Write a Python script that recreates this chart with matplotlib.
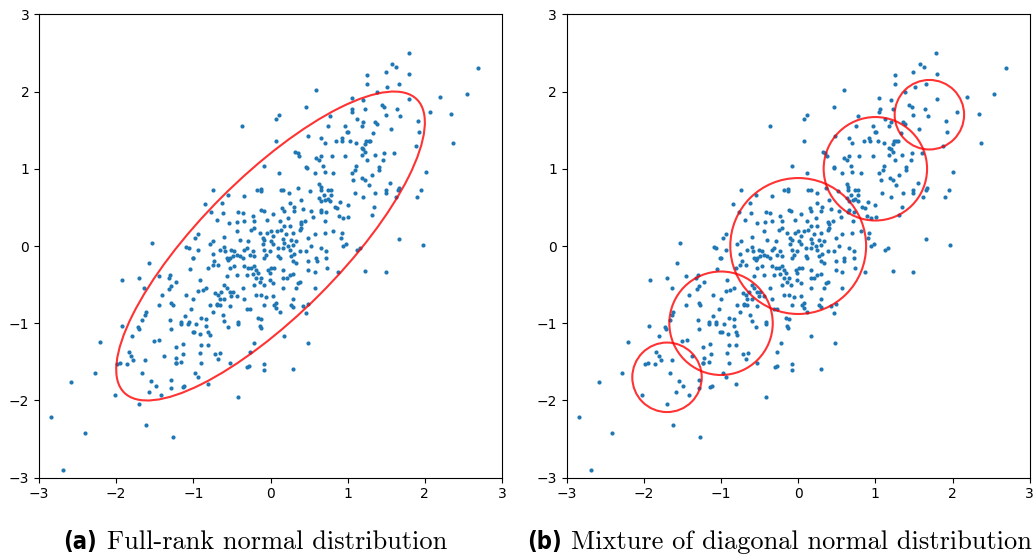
import numpy as np
import matplotlib.pyplot as plt
from matplotlib.patches import Ellipse

# sample drawn from a correlated 2d gaussian (rho = 0.8)
xs = [0.59, 0.46, 0.11, 0.07, -0.37, 0.07, 0.48, 0.77, 0.75, 0.97, 0.99, 0.66, 0.70, 0.85, 0.92, 0.93,
      0.32, 0.35, 0.37, 0.59, 0.63, 0.66, 0.79, 0.97, -0.08, 0.46, 0.68,
      1.79, 1.58, 1.63, 2.69, 1.25, 1.49, 1.80, 1.25, 1.51, 1.66, 1.38, 2.19, 2.54, 1.05, 1.20, 1.80,
      1.44, 1.47, 1.23, 1.06, 1.05, 1.64, 2.06, 2.34, 1.49, 1.68, 1.12, 1.20, 1.36, 1.38, 1.91, 1.18,
      1.56, 1.01, 1.33, 1.93, 1.03, 1.11, 1.24, 1.27, 1.29, 1.23, 2.37, 1.88, 1.18, 1.20, 1.23, 1.35,
      1.47, 1.60, 1.18, 1.25, 1.46, 1.11, 1.40,
      -1.53, -1.09, -1.06, -1.57, -1.01, -1.92, -1.70, -1.45, -1.30, -1.32, -1.22, -1.05, -1.64, -1.29,
      -1.31, -1.41, -1.10, -1.29, -1.27, -1.45, -1.62, -1.63, -1.66, -1.30, -1.11, -1.03, -1.16, -1.06,
      1.10, 1.05, 1.40, 1.07, 1.31, 1.19, 1.23, 1.27, 1.55, 2.01, 1.09, 1.20, 1.36, 1.49, 1.49, 1.65,
      1.67, 1.62, 1.95, 1.90, 1.00, 1.34, 1.01, 1.31, 1.66, 1.97, 1.12, 1.16, 1.23, 1.49,
      -1.93, -1.72, -1.71, -1.29, -1.16, -1.07, -2.21, -1.80, -1.51, -1.44, -1.01, -1.23, -1.14, -1.84,
      -1.81, -1.78, -1.63, -1.38, -1.13, -1.22, -1.23, -1.16, -1.23, -1.99, -1.95, -1.86, -2.28, -1.66,
      -2.58, -1.55, -1.49, -1.29, -1.29, -1.14, -1.12, -1.58, -2.02, -1.42, -1.70, -2.84, -2.41, -1.62,
      -1.27, -2.69,
      -0.96, -0.83, -0.55, -0.42, -0.14, -0.13, -0.99, -0.91, -0.81, -0.79, -0.90, -0.81, -0.92, -0.72,
      -0.65, -0.68, -0.90, -0.53, -0.22, -0.27, 0.17, 0.48, -0.30, -0.28, -0.08, -0.08, 0.29, -0.98,
      -0.94, -0.81, -0.42,
      0.11, 0.57, 0.70, 0.81, 0.47,
      -0.74, -0.55, -0.34, -0.18, -0.13, -0.13, 0.13, 0.16, 0.24, 0.36, 0.51, 0.63, 0.65, 0.65, 0.69,
      0.74, 0.78, 0.78, 0.74, 0.77, 0.71, 0.66, 0.63, 0.40, 0.25, 0.83, 0.86, 0.90, -0.85, -0.63,
      -0.77, -0.61, -0.42, -0.36, -0.23, -0.12, -0.09, 0.03, 0.15, 0.17, 0.30, 0.42, 0.31, 0.53, 0.66,
      0.65, 0.72, 0.89, 0.94, -0.69, -0.54, -0.43, -0.34, -0.21, -0.04, 0.12, 0.23, 0.25, 0.39, 0.40,
      0.45, 0.55, 0.71,
      -0.94, -0.98, -0.74, -0.60, -0.44, -0.25, -0.21, -0.14, -0.10, -0.08, -0.04, 0.00, 0.03, 0.08,
      0.13, 0.17, 0.20, 0.29, 0.38, 0.40, 0.49, 0.57, 0.70, 0.92, 0.91, -0.40, -0.29, 0.01, 0.03, 0.16,
      0.18, 0.27, 0.33, 0.81,
      -0.94, -0.79, -0.66, -0.60, -0.59, -0.51, -0.47, -0.34, -0.31, -0.23, -0.10, -0.08, -0.06, -0.01,
      0.10, 0.12, 0.16, 0.23, 0.25, 0.29, 0.31, 0.38, 0.46, 0.53, 0.66, 0.72, 0.94, 0.98, -1.00, -0.75,
      -0.73, -0.57, -0.55, -0.53, -0.49, -0.44, -0.40, -0.36, -0.27, -0.21, -0.08, 0.10, 0.27, 0.29,
      0.33, 0.49, 0.59, 0.60, 0.72,
      -0.81, -0.75, -0.68, -0.53, -0.47, -0.34, -0.29, -0.25, -0.21, -0.19, -0.16, -0.03, 0.01, 0.05,
      -0.01, 0.16, 0.25, 0.29, 0.49, 0.57, 0.73, 0.87, -0.92, -0.57, -0.44, -0.31, -0.23, -0.19, -0.14,
      -0.12, -0.01, 0.03, 0.16, 0.21, 0.36, 0.38,
      -0.94, -0.88, -0.83, -0.60, -0.57, -0.68, -0.64, -0.53, -0.49, -0.36, -0.21, -0.09, 0.16, 0.33,
      0.57, -0.72, -0.66, -0.70, -0.60, -0.51, -0.44, -0.34, -0.19, -0.12, -0.06, 0.03, 0.07, 0.29,
      0.49, -1.00,
      -0.79, -0.70, -0.66, -0.53, -0.75, -0.90, -0.83, -0.62, -0.60, -0.42, -0.31, -0.27, -0.16, -0.12,
      -0.08, 0.05, 0.07, 0.12, 0.27, 0.29, 0.42, 0.46]
ys = [2.02, 1.80, 1.70, 1.64, 1.55, 1.36, 1.43, 1.68, 1.55, 1.55, 1.48, 1.40, 1.33, 1.36, 1.40, 1.36,
      1.22, 1.20, 1.17, 1.14, 1.11, 1.16, 1.16, 1.16, 1.03, 1.02, 1.04,
      2.50, 2.36, 2.32, 2.31, 2.21, 2.25, 2.23, 2.10, 2.06, 2.10, 1.99, 1.93, 1.97, 1.92, 1.89, 1.90,
      1.83, 1.80, 1.78, 1.77, 1.74, 1.77, 1.73, 1.71, 1.69, 1.68, 1.65, 1.61, 1.60, 1.58, 1.62, 1.55,
      1.51, 1.48, 1.46, 1.48, 1.36, 1.33, 1.36, 1.36, 1.36, 1.32, 1.33, 1.30, 1.27, 1.25, 1.22, 1.18,
      1.20, 1.20, 1.18, 1.11, 1.11, 1.04, 1.02,
      0.04, -0.01, -0.02, -0.22, -0.15, -0.44, -0.42, -0.39, -0.37, -0.41, -0.46, -0.30, -0.55, -0.52,
      -0.56, -0.63, -0.63, -0.74, -0.77, -0.77, -0.85, -0.89, -0.96, -0.96, -0.91, -0.82, -0.99, -0.98,
      0.99, 0.95, 0.99, 0.86, 0.92, 0.88, 0.86, 0.79, 0.81, 0.96, 0.68, 0.63, 0.68, 0.72, 0.68, 0.72,
      0.75, 0.64, 0.73, 0.64, 0.53, 0.51, 0.38, 0.40, 0.09, 0.01, -0.05, -0.03, -0.32, -0.34,
      -1.04, -1.05, -1.07, -1.07, -1.01, -1.01, -1.24, -1.17, -1.23, -1.22, -1.11, -1.31, -1.27, -1.37,
      -1.42, -1.48, -1.48, -1.42, -1.40, -1.45, -1.51, -1.50, -1.52, -1.53, -1.52, -1.53, -1.64, -1.64,
      -1.76, -1.75, -1.81, -1.74, -1.84, -1.83, -1.81, -1.89, -1.93, -1.93, -2.05, -2.21, -2.42, -2.32,
      -2.47, -2.90,
      -1.01, -1.04, -1.05, -1.01, -1.03, -1.06, -1.11, -1.14, -1.11, -1.15, -1.28, -1.28, -1.39, -1.40,
      -1.39, -1.46, -1.52, -1.52, -1.26, -1.37, -1.17, -1.26, -1.57, -1.55, -1.53, -1.61, -1.59, -1.64,
      -1.70, -1.79, -1.96,
      0.94, 0.94, 0.96, 0.94, 1.01,
      0.73, 0.66, 0.65, 0.72, 0.74, 0.71, 0.72, 0.72, 0.69, 0.75, 0.71, 0.80, 0.76, 0.72, 0.66,
      0.72, 0.72, 0.66, 0.61, 0.58, 0.59, 0.58, 0.62, 0.60, 0.56, 0.50, 0.49, 0.57, 0.54, 0.56,
      0.44, 0.43, 0.44, 0.43, 0.39, 0.47, 0.45, 0.41, 0.49, 0.45, 0.45, 0.48, 0.51, 0.45, 0.47,
      0.44, 0.44, 0.39, 0.36, 0.34, 0.30, 0.31, 0.32, 0.32, 0.34, 0.32, 0.36, 0.26, 0.31, 0.28,
      0.33, 0.37, 0.32,
      0.15, 0.10, 0.07, 0.12, 0.19, 0.21, 0.23, 0.17, 0.11, 0.08, 0.17, 0.19, 0.13, 0.19,
      0.21, 0.26, 0.15, 0.17, 0.21, 0.23, 0.10, 0.15, 0.17, 0.17, 0.11, 0.08, 0.06, 0.07, 0.02, 0.09,
      0.04, 0.08, 0.06, 0.19,
      -0.05, 0.02, -0.05, -0.01, -0.06, -0.05, -0.07, -0.05, -0.03, -0.06, 0.02, -0.05, -0.11, -0.07,
      -0.03, -0.16, -0.03, 0.00, -0.05, 0.01, -0.10, -0.07, -0.07, 0.00, -0.03, -0.07, 0.00, 0.02, -0.16, -0.10,
      -0.19, -0.16, -0.18, -0.16, -0.13, -0.12, -0.13, -0.16, -0.12, -0.13, -0.16, -0.13, -0.13, -0.20,
      -0.22, -0.20, -0.16, -0.20, -0.15,
      -0.28, -0.24, -0.25, -0.29, -0.26, -0.26, -0.29, -0.28, -0.26, -0.31, -0.35, -0.31, -0.28, -0.29,
      -0.35, -0.31, -0.37, -0.36, -0.31, -0.33, -0.28, -0.33, -0.44, -0.39, -0.37, -0.37, -0.36, -0.41, -0.46,
      -0.41, -0.44, -0.48, -0.41, -0.41, -0.48, -0.46,
      -0.58, -0.57, -0.55, -0.50, -0.55, -0.63, -0.60, -0.59, -0.59, -0.54, -0.50, -0.50, -0.54, -0.54,
      -0.54, -0.61, -0.69, -0.75, -0.69, -0.65, -0.65, -0.69, -0.63, -0.64, -0.66, -0.65, -0.74, -0.69,
      -0.75, -0.69,
      -0.76, -0.76, -0.76, -0.78, -0.85, -0.93, -0.95, -0.89, -0.97, -0.98, -0.82, -0.82, -0.93, -0.95,
      -0.76, -0.76, -0.80, -0.85, -0.77, -0.79, -0.78, -0.87]

# full-rank fit: mean and covariance
mean = [0.0, 0.0]
cov = [[1.0, 0.8], [0.8, 1.0]]
n_std = 2.0

# mixture of diagonal gaussians along the diagonal
mix_centers = [-1.7, -1.0, 0.0, 1.0, 1.7]
mix_radii = [0.45, 0.67, 0.88, 0.67, 0.45]

captions = ["Full-rank normal distribution", "Mixture of diagonal normal distribution"]
tags = ["(a)", "(b)"]

fig = plt.figure(figsize=(10.33, 5.59), dpi=100)
ax1 = fig.add_axes([0.0378, 0.1454, 0.4482, 0.829])
ax2 = fig.add_axes([0.5486, 0.1454, 0.4482, 0.829])

for ax in (ax1, ax2):
    ax.scatter(xs, ys, s=9, color="C0", linewidths=0)
    ax.set_xlim(-3, 3)
    ax.set_ylim(-3, 3)
    ax.set_xticks(range(-3, 4))
    ax.set_yticks(range(-3, 4))
    ax.tick_params(labelsize=10)

vals, vecs = np.linalg.eigh(np.array(cov))
angle = np.degrees(np.arctan2(vecs[1, 1], vecs[0, 1]))
w = 2 * n_std * np.sqrt(vals[1])
h = 2 * n_std * np.sqrt(vals[0])
ax1.add_patch(Ellipse(mean, w, h, angle=angle, fill=False, edgecolor="red", lw=1.5, alpha=0.8))

for c, r in zip(mix_centers, mix_radii):
    ax2.add_patch(Ellipse((c, c), 2 * r, 2 * r, fill=False, edgecolor="red", lw=1.5, alpha=0.8))

tag_x = [0.061, 0.510]
cap_x = [0.104, 0.553]
for tx, cx, tag, cap in zip(tag_x, cap_x, tags, captions):
    fig.text(tx, 0.017, tag, fontsize=17, fontweight="bold", fontstretch="condensed",
             ha="left", va="baseline")
    fig.text(cx, 0.017, cap, fontsize=19, family="cmr10", ha="left", va="baseline")

plt.savefig("out.png", dpi=100)
